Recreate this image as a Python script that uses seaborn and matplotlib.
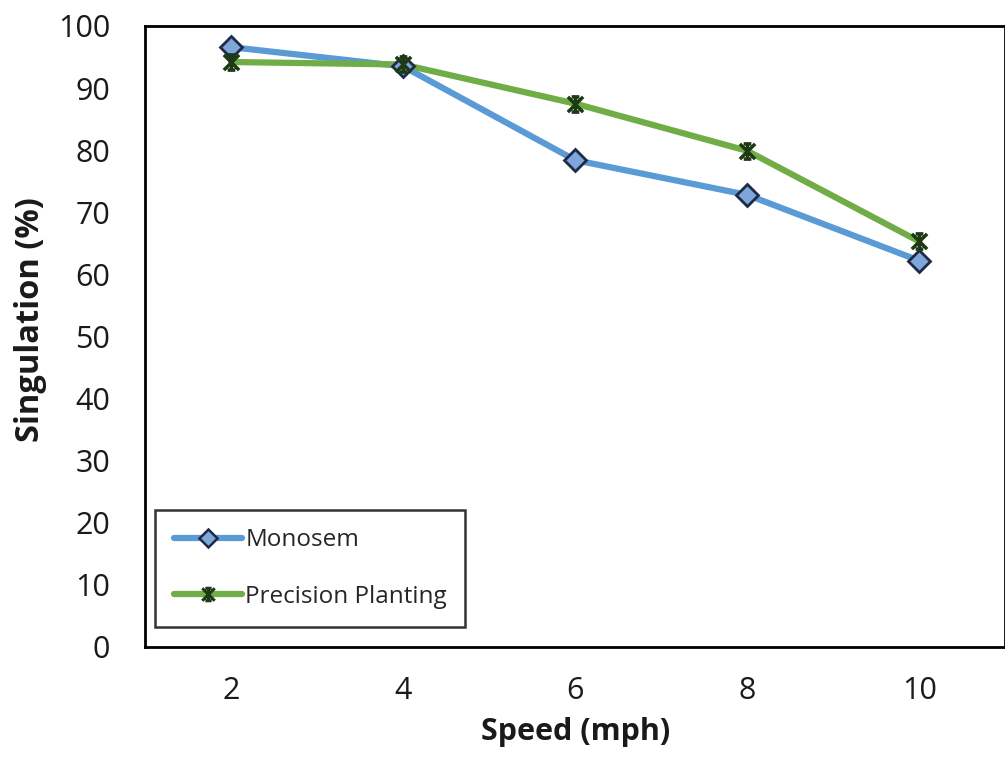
import matplotlib
matplotlib.use("Agg")
import matplotlib.pyplot as plt
from matplotlib.path import Path
from matplotlib.lines import Line2D
import seaborn as sns
import pandas as pd

speed = [2, 4, 6, 8, 10]
monosem = [96.6, 93.5, 78.4, 72.8, 62.2]
precision = [94.2, 93.8, 87.5, 79.9, 65.3]
series_names = ["Monosem", "Precision Planting"]
y_ticks = [0, 10, 20, 30, 40, 50, 60, 70, 80, 90, 100]

df = pd.DataFrame({
    "Speed": speed * 2,
    "Singulation": monosem + precision,
    "Planter": [series_names[0]] * len(speed) + [series_names[1]] * len(speed),
})

sns.set_theme(style="white")
plt.rcParams["font.family"] = ["Open Sans", "DejaVu Sans"]

blue, green = "#5B9BD5", "#70AD47"
diamond_face, diamond_edge = "#7EA6DA", "#1F2B45"
star_edge = "#1E3A14"

# star marker: an X with a vertical stroke and short bars on top and bottom
star = Path(
    [(-1, -1), (1, 1), (-1, 1), (1, -1), (-0.5, 1), (0.5, 1), (-0.5, -1), (0.5, -1), (0, -1), (0, 1)],
    [Path.MOVETO, Path.LINETO, Path.MOVETO, Path.LINETO, Path.MOVETO, Path.LINETO,
     Path.MOVETO, Path.LINETO, Path.MOVETO, Path.LINETO],
)

fig = plt.figure(figsize=(10.05, 7.58), dpi=100)
ax = fig.add_axes([0.1443, 0.1465, 0.856, 0.8192])

palette = {series_names[0]: blue, series_names[1]: green}
sns.lineplot(data=df, x="Speed", y="Singulation", hue="Planter", palette=palette,
             linewidth=4.5, ax=ax, legend=False, sort=False)

ax.plot(speed, monosem, linestyle="none", marker="D", markersize=11,
        markerfacecolor=diamond_face, markeredgecolor=diamond_edge, markeredgewidth=2, zorder=5)
ax.plot(speed, precision, linestyle="none", marker=star, markersize=11,
        markerfacecolor="none", markeredgecolor=star_edge, markeredgewidth=2.5, zorder=5)

ax.set_xlim(1, 11)
ax.set_ylim(0, 100)
ax.set_xticks(speed)
ax.set_yticks(y_ticks)
ax.tick_params(axis="y", labelsize=22, length=0, pad=25, colors="#1a1a1a")
ax.tick_params(axis="x", labelsize=22, length=0, pad=21, colors="#1a1a1a")
ax.set_xlabel("Speed (mph)", fontsize=22, fontweight="bold", labelpad=8, color="#1a1a1a")
ax.set_ylabel("Singulation (%)", fontsize=23.5, fontweight="bold", color="#1a1a1a")
ax.yaxis.set_label_coords(-0.114, 0.527)

for sp in ax.spines.values():
    sp.set_color("black")
    sp.set_linewidth(2)

handles = [
    Line2D([], [], color=blue, linewidth=4.5, marker="D", markersize=9,
           markerfacecolor=diamond_face, markeredgecolor=diamond_edge, markeredgewidth=1.8),
    Line2D([], [], color=green, linewidth=4.5, marker=star, markersize=9,
           markerfacecolor="none", markeredgecolor=star_edge, markeredgewidth=2.2),
]
leg = ax.legend(handles, series_names, loc="lower left", bbox_to_anchor=(0.012, 0.032),
                fontsize=17.5, frameon=True, fancybox=False, handlelength=2.8,
                handletextpad=0.15, labelspacing=1.35, borderpad=0.75, borderaxespad=0)
leg.get_frame().set_edgecolor("black")
leg.get_frame().set_linewidth(1.8)
leg.set_zorder(10)

fig.savefig("out.png", dpi=100)
